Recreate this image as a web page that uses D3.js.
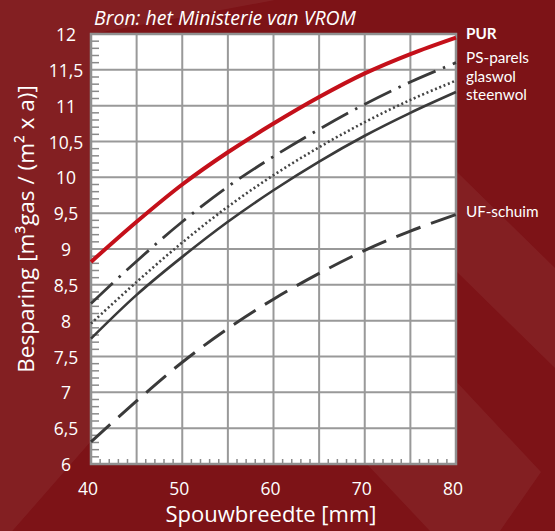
<!DOCTYPE html>
<html>
<head>
<meta charset="utf-8">
<script src="https://cdn.jsdelivr.net/npm/d3@7/dist/d3.min.js"></script>
<style>
  html, body { margin: 0; padding: 0; background: #7d1317; }
  svg { display: block; }
  text { font-family: "Open Sans", sans-serif; fill: #ffffff; }
  text.legend { font-family: Lato, "Open Sans", sans-serif; }
</style>
</head>
<body>
<svg id="chart" width="555" height="531"></svg>
<script>
// ---- data ----
const xValues = [40, 45, 50, 55, 60, 65, 70, 75, 80];
const purValues      = [8.82, 9.38, 9.90, 10.35, 10.75, 11.12, 11.45, 11.72, 11.95];
const psParelsValues = [8.24, 8.83, 9.38, 9.87, 10.29, 10.67, 11.02, 11.33, 11.60];
const glaswolValues  = [7.96, 8.54, 9.09, 9.59, 10.03, 10.42, 10.77, 11.08, 11.35];
const steenwolValues = [7.75, 8.36, 8.89, 9.38, 9.82, 10.22, 10.58, 10.90, 11.19];
const ufSchuimValues = [6.31, 6.88, 7.42, 7.89, 8.30, 8.66, 8.98, 9.25, 9.48];
const seriesNames = ["PUR", "PS-parels", "glaswol", "steenwol", "UF-schuim"];
const xTickLabels = ["40", "50", "60", "70", "80"];
const yTickLabels = ["6", "6,5", "7", "7,5", "8", "8,5", "9", "9,5", "10", "10,5", "11", "11,5", "12"];

const svg = d3.select("#chart");
const W = 555, H = 531;

// background shapes
svg.append("rect").attr("width", W).attr("height", H).attr("fill", "#7d1317");
const bgShapes = [
  [[0,0],[275,0],[92,34],[92,440],[0,545]],
  [[455,170],[555,268],[555,368],[455,270]],
  [[380,300],[541,472],[500,531],[430,531],[330,425]]
];
svg.selectAll("polygon.bg").data(bgShapes).enter().append("polygon")
  .attr("class", "bg")
  .attr("points", d => d.map(p => p.join(",")).join(" "))
  .attr("fill", "#ffffff").attr("fill-opacity", 0.05);

const x = d3.scaleLinear().domain([40, 80]).range([91, 456]);
const y = d3.scaleLinear().domain([6, 12]).range([464, 34]);

// plot background
svg.append("rect")
  .attr("x", x(40)).attr("y", y(12))
  .attr("width", x(80) - x(40)).attr("height", y(6) - y(12))
  .attr("fill", "#ffffff");

const gridColor = "#999999";
const g = svg.append("g");
g.selectAll("line.vg").data(d3.range(40, 80.1, 5)).enter().append("line")
  .attr("x1", d => x(d)).attr("x2", d => x(d))
  .attr("y1", y(12)).attr("y2", y(6))
  .attr("stroke", gridColor).attr("stroke-width", 2);
g.selectAll("line.hg").data(d3.range(6, 12.01, 0.5)).enter().append("line")
  .attr("y1", d => y(d)).attr("y2", d => y(d))
  .attr("x1", x(40)).attr("x2", x(80))
  .attr("stroke", gridColor).attr("stroke-width", 2);

// minor ticks
const yMinor = d3.range(60, 121, 1).filter(v => v % 5 !== 0).map(v => v / 10);
g.selectAll("line.ym").data(yMinor).enter().append("line")
  .attr("x1", x(40)).attr("x2", x(40) + 8)
  .attr("y1", d => y(d)).attr("y2", d => y(d))
  .attr("stroke", "#8a8a8a").attr("stroke-width", 1.5);
const xMinor = d3.range(40, 81, 1).filter(v => v % 5 !== 0);
g.selectAll("line.xm").data(xMinor).enter().append("line")
  .attr("y1", y(6)).attr("y2", y(6) - 5)
  .attr("x1", d => x(d)).attr("x2", d => x(d))
  .attr("stroke", "#8a8a8a").attr("stroke-width", 1.5);

// border
svg.append("rect")
  .attr("x", x(40)).attr("y", y(12))
  .attr("width", x(80) - x(40)).attr("height", y(6) - y(12))
  .attr("fill", "none").attr("stroke", "#909090").attr("stroke-width", 2.5);

// lines
const line = d3.line().x((d, i) => x(xValues[i])).y(d => y(d)).curve(d3.curveCatmullRom);
const series = [
  { vals: ufSchuimValues, color: "#3a3a3a", w: 3, dash: "26,11" },
  { vals: steenwolValues, color: "#3a3a3a", w: 2.6, dash: null },
  { vals: glaswolValues,  color: "#444444", w: 2.6, dash: "2,2.6" },
  { vals: psParelsValues, color: "#3a3a3a", w: 2.8, dash: "30,8,2.5,8" },
  { vals: purValues,      color: "#c4101a", w: 4, dash: null }
];
svg.append("g").selectAll("path").data(series).enter().append("path")
  .attr("d", d => line(d.vals))
  .attr("fill", "none")
  .attr("stroke", d => d.color)
  .attr("stroke-width", d => d.w)
  .attr("stroke-dasharray", d => d.dash)
  .attr("stroke-linecap", "butt");

// y tick labels
const yTickVals = d3.range(6, 12.01, 0.5);
svg.append("g").selectAll("text").data(yTickVals).enter().append("text")
  .attr("x", 66).attr("y", d => y(d) + 7)
  .attr("text-anchor", "middle")
  .style("font-size", "17.5px")
  .text((d, i) => yTickLabels[i]);

// x tick labels
const xTickVals = [40, 50, 60, 70, 80];
svg.append("g").selectAll("text").data(xTickVals).enter().append("text")
  .attr("x", d => x(d) - 3).attr("y", 495)
  .attr("text-anchor", "middle")
  .style("font-size", "17.5px")
  .text((d, i) => xTickLabels[i]);

// axis titles
svg.append("text")
  .attr("x", 271).attr("y", 522)
  .attr("text-anchor", "middle")
  .style("font-size", "22px")
  .text("Spouwbreedte [mm]");

svg.append("text")
  .attr("transform", "translate(34,229) rotate(-90)")
  .attr("text-anchor", "middle")
  .style("font-size", "22.5px")
  .text("Besparing [m³gas / (m² x a)]");

// source
svg.append("text")
  .attr("x", 94).attr("y", 25)
  .style("font-size", "19.5px").style("font-style", "italic")
  .text("Bron: het Ministerie van VROM");

// legend labels
const legendY = [38.5, 63, 81.5, 100, 216.5];
svg.append("g").selectAll("text").data(seriesNames).enter().append("text")
  .attr("class", "legend")
  .attr("x", 466).attr("y", (d, i) => legendY[i])
  .style("font-size", "15.3px")
  .style("font-weight", (d, i) => i === 0 ? "bold" : "normal")
  .text(d => d);
</script>
</body>
</html>
